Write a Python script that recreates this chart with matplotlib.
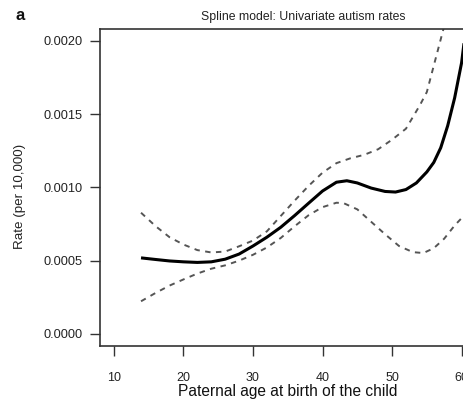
import matplotlib
matplotlib.use("Agg")
import matplotlib.pyplot as plt

plt.rcParams['font.family'] = ['Liberation Sans', 'DejaVu Sans']

# Paternal age (years) and fitted autism rate from the spline model
age_fit = [13.9, 16, 18, 20, 22, 24, 26, 28, 30, 32, 34, 36, 38, 40, 42, 43.5,
           45, 47, 49, 50.5, 52, 53.5, 55, 56, 57, 58, 59, 60, 60.6]
rate_fit = [0.000519, 0.000508, 0.000498, 0.000492, 0.000488, 0.000492, 0.000510,
            0.000545, 0.000600, 0.000660, 0.000728, 0.000808, 0.000892, 0.000975,
            0.001035, 0.001045, 0.001030, 0.000995, 0.000972, 0.000968, 0.000985,
            0.001030, 0.001105, 0.001170, 0.001270, 0.001420, 0.001610, 0.001850,
            0.002080]

# Upper confidence band
age_upper = [13.9, 16, 18, 20, 22, 24, 26, 28, 30, 32, 34, 36, 38, 40, 42, 44,
             46, 48, 50, 52, 54, 55, 56, 57, 57.5]
rate_upper = [0.000827, 0.000735, 0.000660, 0.000610, 0.000572, 0.000556, 0.000562,
              0.000598, 0.000637, 0.000700, 0.000805, 0.000910, 0.001010, 0.001100,
              0.001165, 0.001198, 0.001222, 0.001260, 0.001325, 0.001400, 0.001560,
              0.001650, 0.001830, 0.002010, 0.002100]

# Lower confidence band
age_lower = [13.9, 16, 18, 20, 22, 24, 26, 28, 30, 32, 34, 36, 38, 40, 42, 43,
             45, 47, 49, 51, 53, 54.5, 56, 57.5, 59, 60.5]
rate_lower = [0.000223, 0.000280, 0.000330, 0.000372, 0.000412, 0.000445, 0.000468,
              0.000500, 0.000540, 0.000590, 0.000655, 0.000735, 0.000810, 0.000865,
              0.000895, 0.000893, 0.000850, 0.000765, 0.000680, 0.000600, 0.000558,
              0.000552, 0.000585, 0.000650, 0.000740, 0.000815]

x_ticks = [10, 20, 30, 40, 50, 60]
y_ticks = [0.0, 0.0005, 0.0010, 0.0015, 0.0020]
y_tick_labels = ["0.0000", "0.0005", "0.0010", "0.0015", "0.0020"]

W, H = 464, 401
fig = plt.figure(figsize=(W / 100, H / 100), dpi=100)
fig.patch.set_facecolor('white')

# plot region in pixels: left 100, right 475.5 (runs past the edge), top 29, bottom 345.7
left, right, top, bottom = 100, 475.5, 29, 345.7
ax = fig.add_axes([left / W, 1 - bottom / H, (right - left) / W, (bottom - top) / H])

spine_col = '#333333'
band_col = '#555555'
ax.plot(age_upper, rate_upper, color=band_col, lw=1.4, linestyle=(0, (2.8, 2.8)))
ax.plot(age_lower, rate_lower, color=band_col, lw=1.4, linestyle=(0, (2.8, 2.8)))
ax.plot(age_fit, rate_fit, color='black', lw=2.2, solid_capstyle='butt')

ax.set_xlim(8, 62)
ax.set_ylim(-0.00008, 0.00208)
ax.set_xticks(x_ticks)
ax.set_xticklabels([str(t) for t in x_ticks])
ax.set_yticks(y_ticks)
ax.set_yticklabels(y_tick_labels)

for s in ax.spines.values():
    s.set_color(spine_col)
    s.set_linewidth(1.2)

ax.tick_params(axis='x', length=7.2, width=1.0, color=spine_col, pad=12,
               labelsize=9, labelcolor='#222222')
ax.tick_params(axis='y', length=7.2, width=1.0, color=spine_col, pad=5.5,
               labelsize=9.2, labelcolor='#222222')

fig.text(303 / W, 1 - 17 / H, "Spline model: Univariate autism rates",
         ha='center', va='center', fontsize=8.8, color='#222222')
fig.text(20 / W, 1 - 16 / H, "a", ha='center', va='center', fontsize=12,
         fontweight='bold', color='#111111')
fig.text(288 / W, 1 - 391.5 / H, "Paternal age at birth of the child",
         ha='center', va='center', fontsize=11.2, color='#111111')
fig.text(20 / W, 1 - 196 / H, "Rate (per 10,000)", ha='center', va='center',
         rotation=90, fontsize=9.6, color='#222222')

fig.savefig("out.png", dpi=100, facecolor='white')
